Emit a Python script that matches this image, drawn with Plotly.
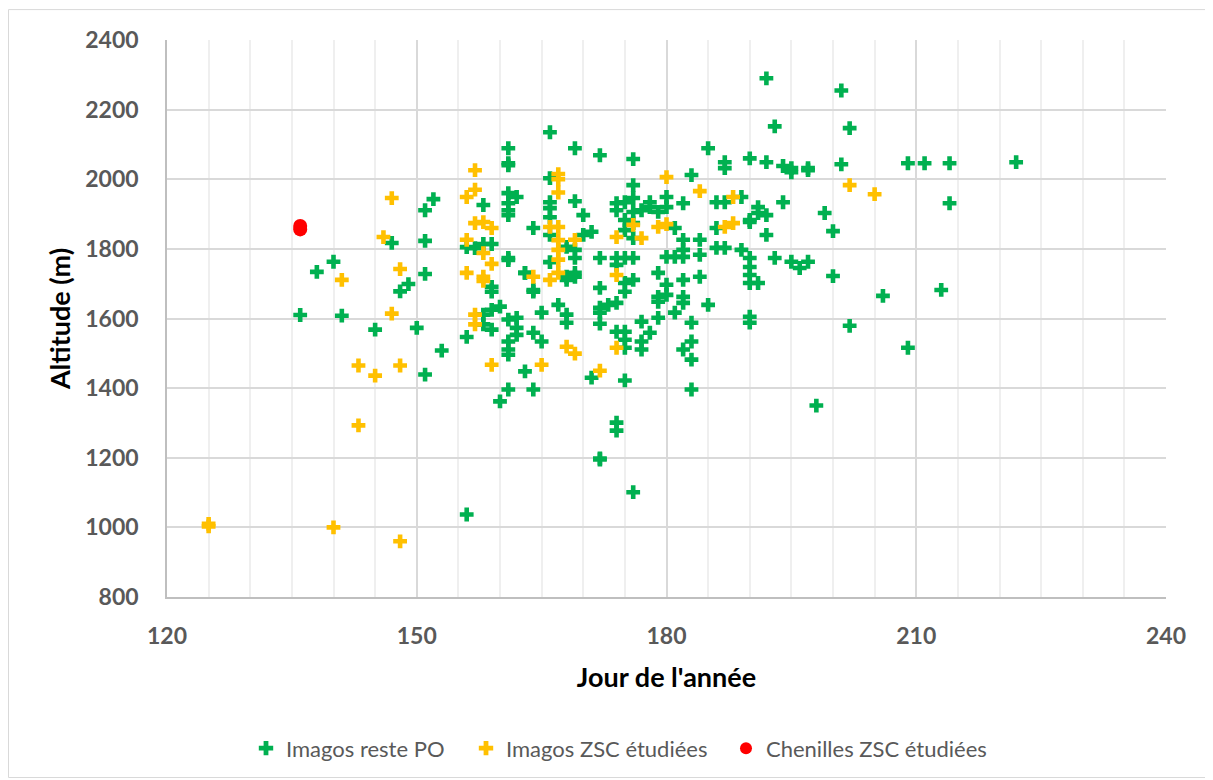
import plotly.graph_objects as go

# Imagos reste PO (green)
green_day = [136,138,140,141,145,147,148,149,150,151,151,151,151,152,153,156,156,156,157,158,158,158,158,
             159,159,159,159,159,160,160,161,161,161,161,161,161,161,161,161,161,161,161,161,162,162,162,162,
             163,163,164,164,164,164,165,165,166,166,166,166,166,166,166,167,168,168,168,168,169,169,169,169,169,
             170,170,171,171,172,172,172,172,172,172,172,172,173,174,174,174,174,174,174,174,174,
             175,175,175,175,175,175,175,175,175,175,176,176,176,176,176,176,176,176,176,
             177,177,177,177,178,178,178,179,179,179,179,179,180,180,180,180,180,181,181,181,
             182,182,182,182,182,182,182,182,183,183,183,183,183,184,184,184,185,185,186,186,186,
             187,187,187,187,189,189,190,190,190,190,190,190,190,190,190,191,191,191,192,192,192,192,
             193,193,194,194,195,195,195,196,197,197,197,198,199,200,200,201,201,202,202,206,209,209,
             211,213,214,214,222,161,163,164,168,169]
green_alt = [1610,1734,1763,1608,1568,1817,1678,1699,1573,1911,1823,1728,1439,1943,1508,1547,1037,1805,1802,1926,1814,1611,1583,
             1814,1691,1677,1625,1568,1634,1362,2089,2046,2040,1960,1931,1911,1897,1774,1597,1534,1511,1496,1396,1949,1602,1573,1553,
             1731,1448,1860,1677,1559,1396,1617,1534,2135,2003,1934,1917,1891,1840,1762,1639,1806,1720,1611,1588,2089,1937,1797,1774,1720,
             1897,1840,1849,1430,2069,1774,1688,1631,1617,1585,1198,1195,1639,1931,1911,1774,1754,1645,1562,1301,1278,
             1934,1883,1854,1774,1702,1677,1562,1539,1516,1422,2058,1983,1946,1906,1874,1831,1774,1711,1101,
             1911,1591,1534,1511,1934,1920,1559,1906,1731,1662,1648,1602,1949,1920,1777,1697,1668,1860,1777,1617,
             1931,1826,1797,1777,1711,1662,1645,1511,2012,1588,1534,1482,1396,1826,1783,1720,2089,1639,1934,1860,1803,
             2049,2032,1934,1803,1949,1797,2060,1883,1877,1774,1748,1725,1702,1605,1588,1920,1903,1702,2290,2049,1897,1840,
             2152,1774,2038,1934,2032,2020,1763,1745,2032,2026,1763,1350,1903,1851,1722,2255,2043,2147,1579,1665,2046,1516,
             2046,1682,2046,1931,2049,1768,1731,1682,1711,1731]

# Imagos ZSC étudiées (yellow)
yellow_day = [125,125,140,141,143,143,145,146,147,147,148,148,148,156,156,156,157,157,157,157,157,158,158,158,158,
              159,159,159,164,165,166,166,167,167,167,167,167,167,167,167,168,169,169,172,174,174,174,176,177,179,
              180,180,184,187,188,188,202,205]
yellow_alt = [1003,1010,1000,1711,1293,1465,1436,1834,1946,1614,1742,1465,960,1949,1826,1731,2026,1970,1874,1611,1583,1877,1788,1720,1708,
              1860,1757,1467,1720,1467,1863,1711,2015,2000,1962,1863,1825,1797,1769,1731,1519,1826,1499,1450,1834,1725,1516,1869,1831,1863,
              2006,1871,1966,1863,1949,1874,1983,1957]

# Chenilles ZSC étudiées (red)
red_day = [136, 136]
red_alt = [1856, 1866]

font_family = "Lato, 'Open Sans', sans-serif"

fig = go.Figure()
fig.add_trace(go.Scatter(x=green_day, y=green_alt, mode="markers", name="Imagos reste PO", legend="legend",
                         marker=dict(symbol="cross", size=11.5, color="#00B050")))
fig.add_trace(go.Scatter(x=yellow_day, y=yellow_alt, mode="markers", name="Imagos ZSC étudiées", legend="legend2",
                         marker=dict(symbol="cross", size=11.5, color="#FFC000")))
fig.add_trace(go.Scatter(x=red_day, y=red_alt, mode="markers", name="Chenilles ZSC étudiées", legend="legend3",
                         marker=dict(symbol="circle", size=14, color="#FF0000")))

def leg(px):
    return dict(orientation="h", xref="container", yref="container", x=(px - 8) / 1205, y=0.041,
                xanchor="left", yanchor="middle", font=dict(size=22, color="#595959"),
                itemsizing="constant", bgcolor="rgba(0,0,0,0)")

# page body has an 8px margin: plot area at page x 167..1166, y 39.5..598
fig.update_layout(
    width=1205, height=772,
    margin=dict(l=159, r=47, t=31.5, b=182.5, autoexpand=False),
    paper_bgcolor="white", plot_bgcolor="white",
    font=dict(family=font_family, color="#595959"),
    showlegend=True,
    legend=leg(246), legend2=leg(466), legend3=leg(726),
    xaxis=dict(range=[120, 240], dtick=30, tick0=120, showgrid=True, gridcolor="#D9D9D9", gridwidth=1.5,
               minor=dict(dtick=5, showgrid=True, gridcolor="#EFEFEF", gridwidth=1.5),
               zeroline=False, showline=True, linecolor="#BFBFBF", linewidth=1.5,
               ticks="", ticklabelstandoff=18,
               tickfont=dict(size=23, color="#595959", family=font_family, weight="bold"),
               title=dict(text="<b>Jour de l'année</b>", font=dict(size=27, color="#000000"), standoff=20)),
    yaxis=dict(range=[800, 2400], dtick=200, showgrid=True, gridcolor="#D9D9D9", gridwidth=1.5,
               zeroline=False, showline=True, linecolor="#BFBFBF", linewidth=1.5,
               ticks="", ticklabelstandoff=22,
               tickfont=dict(size=23, color="#595959", family=font_family, weight="bold"),
               title=dict(text="<b>Altitude (m)</b>", font=dict(size=27, color="#000000"), standoff=7)),
)

# outer chart border
fig.add_shape(type="rect", xref="paper", yref="paper",
              x0=(0.5 - 159) / 999, x1=(1204.5 - 159) / 999,
              y0=(590 - 771) / 558.5, y1=(590 - 1) / 558.5,
              line=dict(color="#D9D9D9", width=1), layer="below")

fig.write_html("out.html")
